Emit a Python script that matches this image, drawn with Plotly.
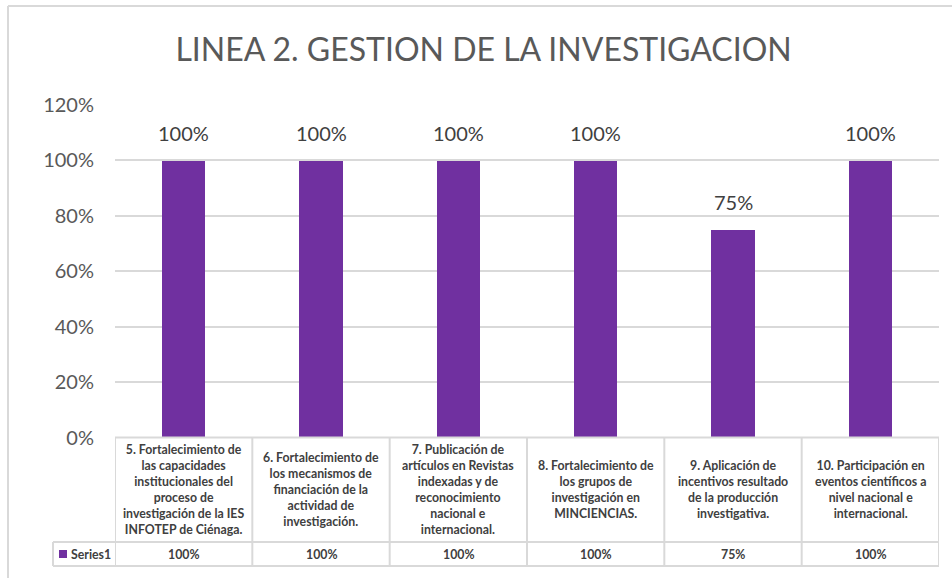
import plotly.graph_objects as go

W, H = 952, 578

# Data
categories = [
    "5. Fortalecimiento de<br>las capacidades<br>institucionales del<br>proceso de<br>investigación de la IES<br>INFOTEP de Ciénaga.",
    "6. Fortalecimiento de<br>los mecanismos de<br>financiación de la<br>actividad de<br>investigación.",
    "7. Publicación de<br>artículos en Revistas<br>indexadas y de<br>reconocimiento<br>nacional e<br>internacional.",
    "8. Fortalecimiento de<br>los grupos de<br>investigación en<br>MINCIENCIAS.",
    "9. Aplicación de<br>incentivos resultado<br>de la producción<br>investigativa.",
    "10. Participación en<br>eventos científicos a<br>nivel nacional e<br>internacional.",
]
series_name = "Series1"
values = [1.00, 1.00, 1.00, 1.00, 0.75, 1.00]
y_ticks = [0, 0.2, 0.4, 0.6, 0.8, 1.0, 1.2]

PURPLE = "#7030a0"
GRID = "#d9d9d9"
TXT = "#595959"
FONT = "Lato, Carlito, Calibri, sans-serif"


def px_x(x):
    return x / W


def px_y(y):
    return (H - y) / H


# plot area in pixels
X0, X1 = 115, 939
Y0, Y1 = 437.5, 104.5   # 0% and 120%
ROW1, ROW2 = 542, 566   # table row separators
KEY_X = 53

idx = list(range(len(categories)))

fig = go.Figure()
fig.add_trace(go.Bar(
    x=idx,
    y=values,
    width=0.315,
    marker=dict(color=PURPLE, line=dict(width=0)),
    name=series_name,
    showlegend=False,
    hovertemplate="%{y:.0%}<extra></extra>",
))

shapes = []
# outer chart border (only left and top edges are visible in the crop)
shapes.append(dict(type="line", xref="paper", yref="paper",
                   x0=px_x(8), x1=px_x(8), y0=0, y1=px_y(6),
                   line=dict(color=GRID, width=2), layer="below"))
shapes.append(dict(type="line", xref="paper", yref="paper",
                   x0=px_x(8), x1=1, y0=px_y(6), y1=px_y(6),
                   line=dict(color=GRID, width=2), layer="below"))
# data table horizontal lines
for y, xs in [(Y0, X0), (ROW1, KEY_X), (ROW2, KEY_X)]:
    shapes.append(dict(type="line", xref="paper", yref="paper",
                       x0=px_x(xs), x1=px_x(X1), y0=px_y(y), y1=px_y(y),
                       line=dict(color=GRID, width=2)))
# vertical lines at category boundaries
for i in range(len(categories) + 1):
    shapes.append(dict(type="line", xref="x", yref="paper",
                       x0=i - 0.5, x1=i - 0.5, y0=px_y(Y0), y1=px_y(ROW2),
                       line=dict(color=GRID, width=2)))
shapes.append(dict(type="line", xref="paper", yref="paper",
                   x0=px_x(KEY_X), x1=px_x(KEY_X), y0=px_y(ROW1), y1=px_y(ROW2),
                   line=dict(color=GRID, width=2)))
# legend key in table
shapes.append(dict(type="rect", xref="paper", yref="paper",
                   x0=px_x(59), x1=px_x(67), y0=px_y(558), y1=px_y(550),
                   fillcolor=PURPLE, line=dict(width=0)))

annotations = []
for i, cat in enumerate(categories):
    # data label above bar
    annotations.append(dict(x=i, xref="x", y=values[i], yref="y",
                            text=f"{values[i]:.0%}", showarrow=False,
                            font=dict(size=20, color="#404040", family=FONT),
                            xanchor="center", yanchor="bottom", yshift=13))
    annotations.append(dict(x=i, xref="x", y=px_y((Y0 + ROW1) / 2), yref="paper",
                            text=f"<b>{cat}</b>", showarrow=False, align="center",
                            font=dict(size=12.3, color="#404040", family=FONT),
                            xanchor="center", yanchor="middle"))
    annotations.append(dict(x=i, xref="x", y=px_y((ROW1 + ROW2) / 2), yref="paper",
                            text=f"<b>{values[i]:.0%}</b>", showarrow=False,
                            font=dict(size=12.3, color="#404040", family=FONT),
                            xanchor="center", yanchor="middle"))
annotations.append(dict(x=px_x(69), xref="paper", y=px_y((ROW1 + ROW2) / 2), yref="paper",
                        text=f"<b>{series_name}</b>", showarrow=False,
                        font=dict(size=12.3, color="#404040", family=FONT),
                        xanchor="left", yanchor="middle"))

fig.update_layout(
    width=W, height=H,
    margin=dict(l=0, r=0, t=0, b=0),
    paper_bgcolor="white",
    plot_bgcolor="white",
    font=dict(family=FONT, color=TXT),
    title=dict(text="LINEA 2. GESTION DE LA INVESTIGACION",
               x=0.508, xanchor="center", y=px_y(50), yanchor="middle",
               font=dict(size=32, color=TXT, family=FONT)),
    xaxis=dict(domain=[px_x(X0), px_x(X1)], range=[-0.5, len(categories) - 0.5],
               showticklabels=False, showgrid=False, zeroline=False, showline=False,
               ticks="", fixedrange=True, automargin=False),
    yaxis=dict(domain=[px_y(Y0), px_y(Y1)], range=[0, 1.2],
               tickvals=y_ticks, tickformat=".0%",
               tickfont=dict(size=20, color=TXT, family=FONT),
               gridcolor=GRID, gridwidth=2, zeroline=False, showline=False,
               ticks="", ticklabelstandoff=20, fixedrange=True, automargin=False),
    shapes=shapes,
    annotations=annotations,
    bargap=0,
)

fig.write_html("out.html", config={"displayModeBar": False},
               post_script="document.body.style.margin='0';")
